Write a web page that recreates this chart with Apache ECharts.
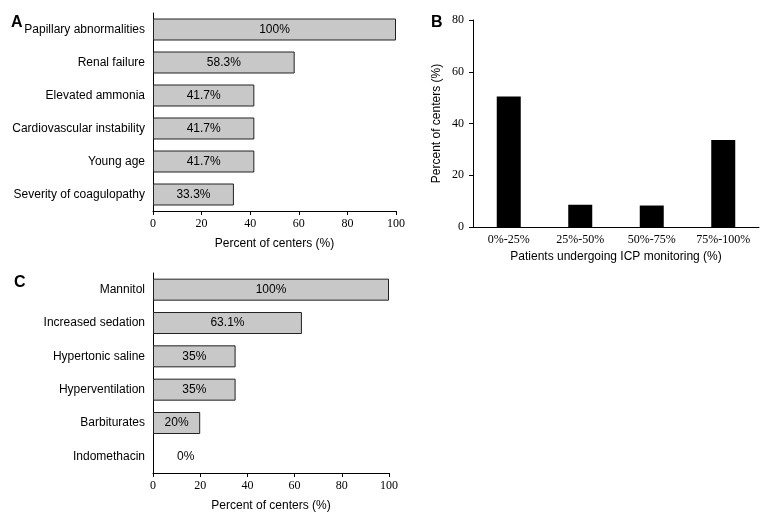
<!DOCTYPE html>
<html>
<head>
<meta charset="utf-8">
<script src="https://cdn.jsdelivr.net/npm/echarts@6/dist/echarts.min.js"></script>
<style>html,body{margin:0;padding:0;background:#fff}#c{width:770px;height:520px}</style>
</head>
<body>
<div id="c"></div>
<script>
const catA = ['Papillary abnormalities','Renal failure','Elevated ammonia','Cardiovascular instability','Young age','Severity of coagulopathy'];
const valA = [100, 58.3, 41.7, 41.7, 41.7, 33.3];
const catB = ['0%-25%','25%-50%','50%-75%','75%-100%'];
const valB = [50.4, 8.6, 8.3, 33.6];
const catC = ['Mannitol','Increased sedation','Hypertonic saline','Hyperventilation','Barbiturates','Indomethacin'];
const valC = [100, 63.1, 35, 35, 20, 0];
const axisName = 'Percent of centers (%)';
const axisNameB = 'Patients undergoing ICP monitoring (%)';

const SANS = 'Liberation Sans';
const SERIF = 'Liberation Serif';
const chart = echarts.init(document.getElementById('c'), null, {renderer:'canvas'});

function valueX(gi){
  return {type:'value', gridIndex:gi, min:0, max:100, interval:20,
    axisLine:{show:true, lineStyle:{color:'#000', width:1}},
    axisTick:{show:true, inside:false, length:4, lineStyle:{color:'#000'}},
    splitLine:{show:false},
    axisLabel:{fontFamily:SERIF, fontSize:12, color:'#000', margin:7},
    name:axisName, nameLocation:'middle', nameGap:27,
    nameTextStyle:{fontFamily:SANS, fontSize:12, color:'#000'}};
}
function catY(gi, data){
  return {type:'category', gridIndex:gi, data:data, inverse:true,
    axisLine:{show:true, lineStyle:{color:'#000', width:1}},
    axisTick:{show:false},
    axisLabel:{fontFamily:SANS, fontSize:12, color:'#000', margin:8}};
}
function hbarData(vals){
  return vals.map(v => v === 0
    ? {value:v, itemStyle:{borderWidth:0}, label:{position:'right', distance:24}}
    : v);
}
function hbar(xi, vals){
  return {type:'bar', xAxisIndex:xi, yAxisIndex:xi, data:hbarData(vals), barWidth:22,
    itemStyle:{color:'#c8c8c8', borderColor:'#222', borderWidth:1},
    label:{show:true, position:'inside', formatter:'{c}%', fontFamily:SANS, fontSize:12, color:'#000'},
    silent:true, animation:false};
}

chart.setOption({
  animation:false,
  grid:[
    {left:153, top:13, width:243, height:198},
    {left:473, top:20, width:286, height:207},
    {left:153, top:273, width:236, height:200}
  ],
  xAxis:[
    valueX(0),
    {type:'category', gridIndex:1, data:catB,
      axisLine:{show:true, lineStyle:{color:'#000', width:1}},
      axisTick:{show:false},
      axisLabel:{fontFamily:SERIF, fontSize:12, color:'#000', margin:7},
      name:axisNameB, nameLocation:'middle', nameGap:24,
      nameTextStyle:{fontFamily:SANS, fontSize:12, color:'#000'}},
    valueX(2)
  ],
  yAxis:[
    catY(0, catA),
    {type:'value', gridIndex:1, min:0, max:80, interval:20,
      axisLine:{show:true, lineStyle:{color:'#000', width:1}},
      axisTick:{show:true, inside:false, length:4, lineStyle:{color:'#000'}},
      splitLine:{show:false},
      axisLabel:{fontFamily:SERIF, fontSize:12, color:'#000', margin:9},
      name:axisName, nameLocation:'middle', nameGap:30, nameRotate:90,
      nameTextStyle:{fontFamily:SANS, fontSize:12, color:'#000'}},
    catY(2, catC)
  ],
  series:[
    hbar(0, valA),
    {type:'bar', xAxisIndex:1, yAxisIndex:1, data:valB, barWidth:24,
      itemStyle:{color:'#000'}, silent:true, animation:false},
    hbar(2, valC)
  ],
  graphic:[
    {type:'text', left:11, top:15, style:{text:'A', font:'bold 16px "Liberation Sans"', fill:'#000'}},
    {type:'text', left:431, top:15, style:{text:'B', font:'bold 16px "Liberation Sans"', fill:'#000'}},
    {type:'text', left:14, top:275, style:{text:'C', font:'bold 16px "Liberation Sans"', fill:'#000'}}
  ]
});
</script>
</body>
</html>
